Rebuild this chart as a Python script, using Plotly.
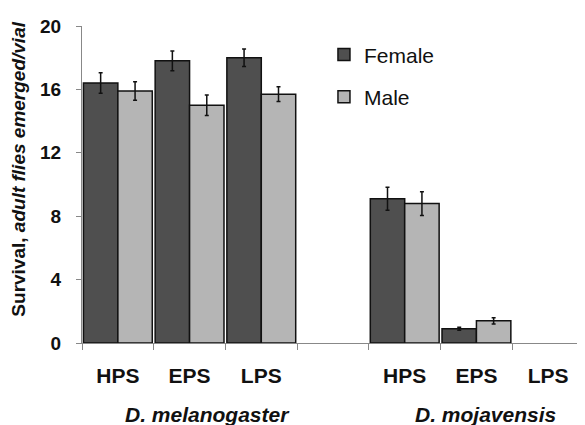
import plotly.graph_objects as go

categories = ["HPS", "EPS", "LPS", " ", "HPS ", "EPS ", "LPS "]
tick_labels = ["HPS", "EPS", "LPS", "", "HPS", "EPS", "LPS"]
female = [16.4, 17.8, 18.0, None, 9.1, 0.9, 0.0]
female_err = [0.65, 0.62, 0.55, None, 0.72, 0.1]
male = [15.9, 15.0, 15.7, None, 8.8, 1.4, 0.0]
male_err = [0.58, 0.65, 0.47, None, 0.75, 0.2]
groups = ["D. melanogaster", "D. mojavensis"]
group_pos = [1.25, 5.12]

FONT = "Liberation Sans, Arial, sans-serif"


def outline(vals):
    return [0 if v == 0 else 1.5 for v in vals]


fig = go.Figure()
fig.add_trace(go.Bar(
    x=categories, y=female, name="Female", legendgroup="f",
    marker=dict(color="#4f4f4f", line=dict(color="#111111", width=outline(female))),
    error_y=dict(type="data", array=female_err, color="#111111", thickness=1.5, width=2),
))
fig.add_trace(go.Bar(
    x=categories, y=male, name="Male", legendgroup="m",
    marker=dict(color="#b5b5b5", line=dict(color="#111111", width=outline(male))),
    error_y=dict(type="data", array=male_err, color="#111111", thickness=1.5, width=2),
))

for g, p in zip(groups, group_pos):
    fig.add_annotation(
        x=p, xref="x", y=-0.226, yref="paper", text="<b><i>%s</i></b>" % g,
        showarrow=False, font=dict(family=FONT, size=21, color="#111111"),
        xanchor="center", yanchor="middle",
    )

fig.add_annotation(
    x=-0.1255, xref="paper", y=0.55, yref="paper",
    text="<b>Survival, <i>adult flies emerged/vial</i></b>",
    textangle=-90, showarrow=False,
    font=dict(family=FONT, size=19, color="#111111"),
    xanchor="center", yanchor="middle",
)

fig.update_layout(
    width=577, height=417,
    margin=dict(l=74, r=1, t=18, b=82),
    paper_bgcolor="white", plot_bgcolor="white",
    barmode="group", bargap=0.04, bargroupgap=0,
    font=dict(family=FONT, color="#111111"),
    showlegend=True,
    legend=dict(
        x=0.482, y=0.974, xanchor="left", yanchor="top",
        font=dict(family=FONT, size=21, color="#111111"),
        bgcolor="rgba(0,0,0,0)", tracegroupgap=12,
        itemwidth=30,
    ),
)
fig.update_xaxes(
    type="category", categoryorder="array", categoryarray=categories,
    tickmode="array", tickvals=categories, ticktext=tick_labels,
    range=[-0.5, 6.5], tickson="boundaries",
    showline=True, linecolor="#888888", linewidth=1.2,
    ticks="outside", ticklen=6, tickcolor="#888888", tickwidth=1.2,
    tickfont=dict(family=FONT, size=21, color="#111111", weight="bold"),
    ticklabelstandoff=14, showgrid=False, zeroline=False,
)
fig.update_yaxes(
    range=[0, 20], tickvals=[0, 4, 8, 12, 16, 20],
    showline=True, linecolor="#888888", linewidth=1.2,
    ticks="outside", ticklen=5, tickcolor="#888888", tickwidth=1.2,
    tickfont=dict(family=FONT, size=19, color="#111111", weight="bold"),
    ticklabelstandoff=11, showgrid=False, zeroline=False,
)

fig.write_html("out.html")
